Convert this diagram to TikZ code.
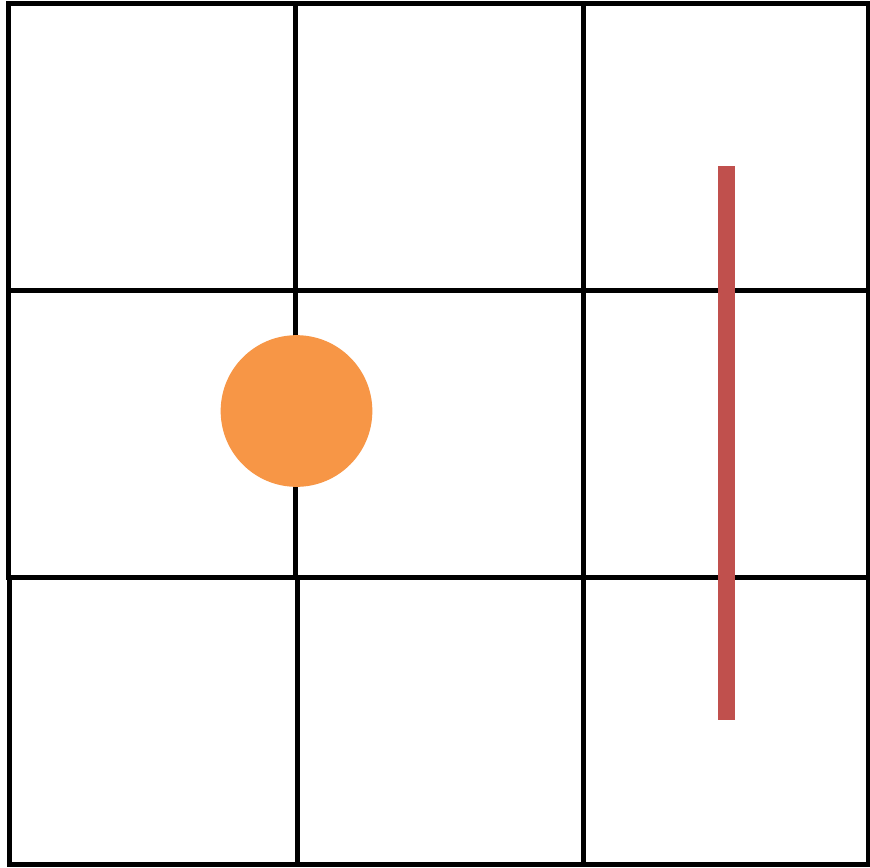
\documentclass[tikz,border=0pt]{standalone}
\usepackage{tikz}

\definecolor{dotorange}{HTML}{F79646}
\definecolor{barred}{HTML}{C0504D}

\begin{document}
\begin{tikzpicture}[
    x=0.03cm, y=-0.03cm,
    gridline/.style={
        draw=black,
        line width=0.15cm,
        line cap=rect
    },
    dot/.style={
        circle,
        fill=dotorange,
        minimum size=4.55cm,
        inner sep=0pt
    },
    bar/.style={
        draw=barred,
        line width=0.5cm
    }
]

\useasboundingbox (0,0) rectangle (870,867);

% Grid
\draw[gridline] (8.5,3) -- (868,3);
\draw[gridline] (8.5,290) -- (868,290);
\draw[gridline] (8.5,577) -- (868,577);
\draw[gridline] (9.5,864) -- (868,864);

\draw[gridline] (8.5,3) -- (8.5,577);
\draw[gridline] (9.5,577) -- (9.5,864);
\draw[gridline] (295.5,3) -- (295.5,577);
\draw[gridline] (297,577) -- (297,864);
\draw[gridline] (583,3) -- (583,864);
\draw[gridline] (868,3) -- (868,864);

% Circle
\node[dot] (ball) at (296.5,411) {};

% Bar
\coordinate (bartop) at (726.5,166);
\coordinate (barbottom) at (726.5,720);
\draw[bar] (bartop) -- (barbottom);

\end{tikzpicture}
\end{document}
